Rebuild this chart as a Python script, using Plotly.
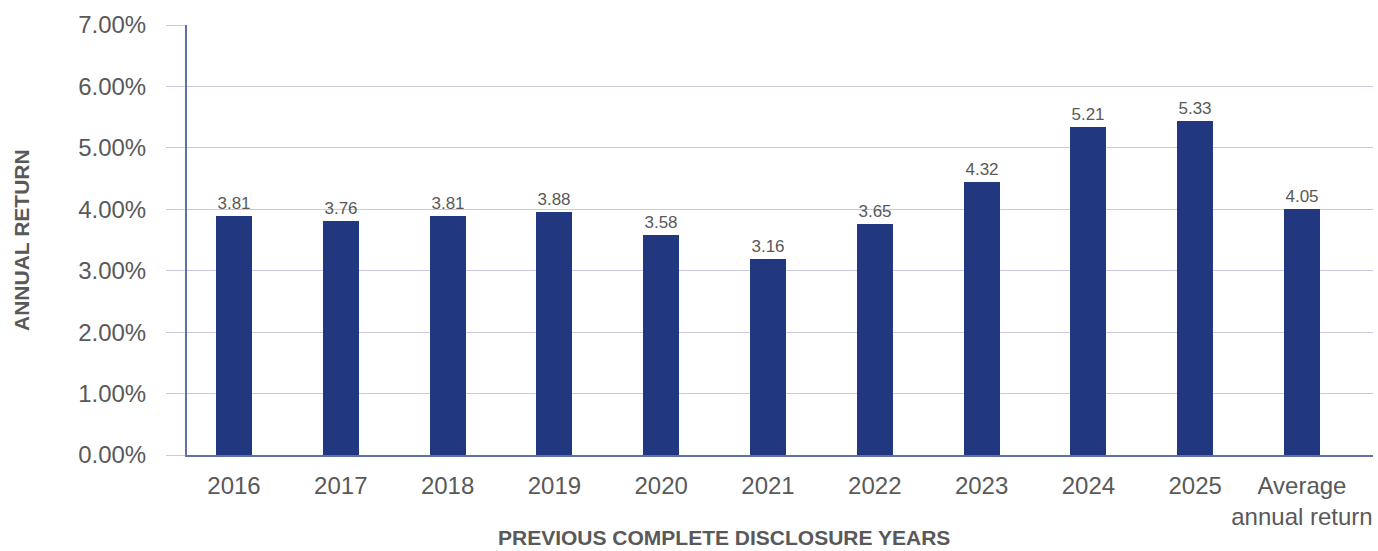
import plotly.graph_objects as go

categories = ["2016", "2017", "2018", "2019", "2020", "2021", "2022", "2023", "2024", "2025", "Average annual return"]
tick_labels = ["2016", "2017", "2018", "2019", "2020", "2021", "2022", "2023", "2024", "2025", "Average<br>annual return"]
# bar heights as drawn in the reference (percent)
bar_heights = [3.89, 3.81, 3.89, 3.96, 3.58, 3.19, 3.76, 4.45, 5.34, 5.44, 4.00]
# value labels printed above the bars
bar_labels = ["3.81", "3.76", "3.81", "3.88", "3.58", "3.16", "3.65", "4.32", "5.21", "5.33", "4.05"]
y_ticks = [0, 1, 2, 3, 4, 5, 6, 7]
y_tick_text = ["0.00%", "1.00%", "2.00%", "3.00%", "4.00%", "5.00%", "6.00%", "7.00%"]

BAR = "#213780"
GRID = "#C6C9E1"
AXIS = "#6170A8"
TXT = "#595959"
FONT = "Liberation Sans, Arial, sans-serif"

fig = go.Figure()
fig.add_trace(go.Bar(
    x=list(range(len(categories))),
    y=bar_heights,
    width=0.337,
    marker=dict(color=BAR, line=dict(width=0)),
    text=bar_labels,
    textposition="outside",
    constraintext="none",
    cliponaxis=False,
    textfont=dict(family=FONT, size=17, color=TXT),
    hovertext=categories,
    showlegend=False,
))

fig.update_layout(
    width=1378, height=551,
    margin=dict(l=187, r=5, t=25, b=96),
    paper_bgcolor="white", plot_bgcolor="white",
    font=dict(family=FONT, color=TXT),
    bargap=0,
)
fig.update_xaxes(
    range=[-0.44, 10.665],
    tickmode="array",
    tickvals=list(range(len(categories))),
    ticktext=tick_labels,
    tickfont=dict(size=24, color=TXT, family=FONT),
    ticklabelstandoff=8,
    showgrid=False,
    showline=True, linecolor=AXIS, linewidth=2,
    ticks="", zeroline=False,
)
fig.update_yaxes(
    range=[0, 7],
    tickmode="array",
    tickvals=y_ticks,
    ticktext=y_tick_text,
    tickfont=dict(size=24, color=TXT, family=FONT),
    showgrid=True, gridcolor=GRID, gridwidth=1,
    ticks="outside", ticklen=19, tickcolor=GRID, tickwidth=1,
    ticklabelstandoff=15,
    showline=True, linecolor=AXIS, linewidth=2,
    zeroline=False,
)

fig.add_annotation(
    text="<b>PREVIOUS COMPLETE DISCLOSURE YEARS</b>",
    xref="paper", yref="paper", x=0.4528, y=-0.193,
    xanchor="center", yanchor="middle", showarrow=False, borderpad=0,
    font=dict(size=21, color=TXT, family=FONT),
)
fig.add_annotation(
    text="<b>ANNUAL RETURN</b>",
    xref="paper", yref="paper", x=-0.14, y=0.5,
    xanchor="center", yanchor="middle", showarrow=False, textangle=-90,
    font=dict(size=21, color=TXT, family=FONT),
)

fig.write_html(
    "out.html",
    config={"displayModeBar": False},
    post_script="document.body.style.margin='0';document.body.style.padding='0';document.body.style.overflow='hidden';",
)
